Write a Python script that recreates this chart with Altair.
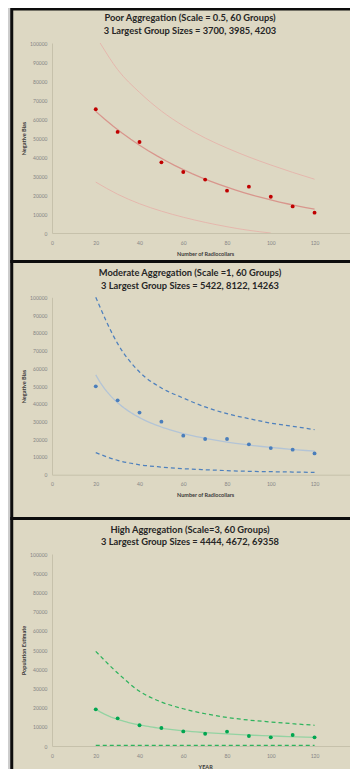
import altair as alt
import pandas as pd

# ---------------- data ----------------
collars = [20, 30, 40, 50, 60, 70, 80, 90, 100, 110, 120]

# Poor aggregation (red)
poor_points = [65100, 53200, 47900, 37200, 32100, 28100, 22300, 24400, 19100, 14000, 10700]
poor_upper_x = [22, 30, 40, 50, 60, 70, 80, 90, 100, 110, 120]
poor_upper = [100000, 86000, 74000, 64200, 56400, 50000, 44700, 40000, 35800, 31900, 28300]
poor_lower_x = [20, 30, 40, 50, 60, 70, 80, 90, 100]
poor_lower = [26800, 20400, 15400, 11500, 8300, 5600, 3300, 1400, 0]

# Moderate aggregation (blue)
mod_points = [49800, 41900, 35000, 29900, 22000, 20100, 20100, 17100, 15000, 14100, 12000]
mod_upper = [100000, 73900, 57900, 48900, 43200, 38200, 34400, 31600, 29100, 27300, 25400]
mod_lower = [12400, 8100, 5600, 4300, 3400, 2800, 2300, 1900, 1700, 1500, 1300]

# High aggregation (green)
high_points = [19100, 14400, 10800, 9400, 7600, 6400, 7500, 5200, 4500, 5700, 4500]
high_upper = [49300, 38000, 28500, 22900, 19400, 16800, 14900, 13500, 12500, 11600, 10800]
high_lower = [300, 300, 300, 300, 300, 300, 300, 300, 300, 300, 300]

y_ticks = [0, 10000, 20000, 30000, 40000, 50000, 60000, 70000, 80000, 90000, 100000]
x_ticks = [0, 20, 40, 60, 80, 100, 120, 140]

titles = [
    ["Poor Aggregation (Scale = 0.5, 60 Groups)", "3 Largest Group Sizes = 3700, 3985, 4203"],
    ["Moderate Aggregation (Scale =1, 60 Groups)", "3 Largest Group Sizes = 5422, 8122, 14263"],
    ["High Aggregation (Scale=3, 60 Groups)", "3 Largest Group Sizes = 4444, 4672, 69358"],
]
y_titles = ["Negative Bias", "Negative Bias", "Population Estimate"]
x_titles = ["Number of Radiocollars", "Number of Radiocollars", "YEAR"]

# ---------------- layout / style ----------------
VW, VH = 342, 761          # canvas = page area inside the 8px margin
FONT = "Lato"
BEIGE = "#ddd8c3"
FRAME = "#0d0d0d"
AXIS_C = "#c6c1ab"


def panel(pts, up_x, up, lo_x, lo, ytitle, xtitle, yr, xtitle_y, method,
          pt_color, trend_color, band_color, dash):
    x_enc = alt.X(
        "x:Q",
        scale=alt.Scale(domain=[0, 140], range=[44, 350.3], nice=False, zero=False),
        axis=alt.Axis(
            orient="bottom", values=x_ticks, format="d", ticks=False, grid=False,
            domainColor=AXIS_C, domainWidth=1, zindex=2,
            labelFontSize=5, labelColor="#858585", labelFont=FONT,
            labelPadding=7, labelFlush=False, labelOverlap=False,
            offset=yr[0] - VH,
            title=xtitle, titleFontSize=5.5, titleFontWeight="bold",
            titleColor="#3a3a3a", titleFont=FONT, titleY=xtitle_y,
            titleBaseline="middle",
        ),
    )
    y_enc = alt.Y(
        "y:Q",
        scale=alt.Scale(domain=[0, 100000], range=yr, nice=False, zero=False),
        axis=alt.Axis(
            orient="left", values=y_ticks, format="d", ticks=False, grid=False,
            domainColor=AXIS_C, domainWidth=1, zindex=2,
            labelFontSize=5, labelColor="#858585", labelFont=FONT,
            labelPadding=5, labelFlush=False, labelOverlap=False,
            offset=-44,
            title=ytitle, titleFontSize=5.5, titleFontWeight="bold",
            titleColor="#3a3a3a", titleFont=FONT, titleX=-29,
            titleBaseline="middle",
        ),
    )
    df_pts = pd.DataFrame({"x": collars, "y": pts})
    df_up = pd.DataFrame({"x": up_x, "y": up})
    df_lo = pd.DataFrame({"x": lo_x, "y": lo})

    line_kw = dict(color=band_color, strokeWidth=1.25 if dash else 0.9,
                   interpolate="monotone")
    if dash:
        line_kw["strokeDash"] = dash
    upper = alt.Chart(df_up).mark_line(**line_kw).encode(x=x_enc, y=y_enc)
    lower = alt.Chart(df_lo).mark_line(**line_kw).encode(x=x_enc, y=y_enc)
    trend = (
        alt.Chart(df_pts)
        .transform_regression("x", "y", method=method, extent=[20, 120])
        .mark_line(color=trend_color, strokeWidth=1.3)
        .encode(x=x_enc, y=y_enc)
    )
    points = alt.Chart(df_pts).mark_point(
        filled=True, shape="circle", size=15, color=pt_color, opacity=1
    ).encode(x=x_enc, y=y_enc)
    return alt.layer(upper, lower, trend, points)


def frame(name, y0, y1):
    return alt.Chart(pd.DataFrame({"panel": [name]})).mark_rect(
        fill=BEIGE, stroke=FRAME, strokeWidth=3
    ).encode(x=alt.value(3.75), x2=alt.value(362), y=alt.value(y0), y2=alt.value(y1))


def heading(name, line, yc):
    return alt.Chart(pd.DataFrame({"panel": [name]})).mark_text(
        text=line, font=FONT, fontSize=9.3, fontWeight="bold", color="#262626",
        align="center", baseline="middle",
    ).encode(x=alt.value(182), y=alt.value(yc))


p1 = panel(poor_points, poor_upper_x, poor_upper, poor_lower_x, poor_lower,
           y_titles[0], x_titles[0], [225, 35], 20, "exp",
           "#c00000", "#d8968d", "#e5b3aa", None)
p2 = panel(mod_points, collars, mod_upper, collars, mod_lower,
           y_titles[1], x_titles[1], [466.7, 289.3], 19.3, "pow",
           "#4a7ebb", "#b3c4d6", "#4f81bd", [4, 3])
p3 = panel(high_points, collars, high_upper, collars, high_lower,
           y_titles[2], x_titles[2], [738, 546], 20, "pow",
           "#00a650", "#93d3a2", "#2eb35d", [4, 3])

chart = (
    alt.layer(
        frame("poor", 1, 253.5),
        frame("moderate", 253.5, 510.5),
        frame("high", 510.5, 767),
        p1, p2, p3,
        heading("poor", titles[0][0], 10.3),
        heading("poor", titles[0][1], 22.7),
        heading("moderate", titles[1][0], 265),
        heading("moderate", titles[1][1], 277.7),
        heading("high", titles[2][0], 522),
        heading("high", titles[2][1], 533.7),
    )
    .resolve_scale(x="independent", y="independent")
    .properties(
        width=VW, height=VH, padding=0, background="#cdcdcd",
        autosize=alt.AutoSizeParams(type="none"),
    )
    .configure_view(stroke="transparent")
)

chart.save("out.html", embed_options={"renderer": "svg", "actions": False})
